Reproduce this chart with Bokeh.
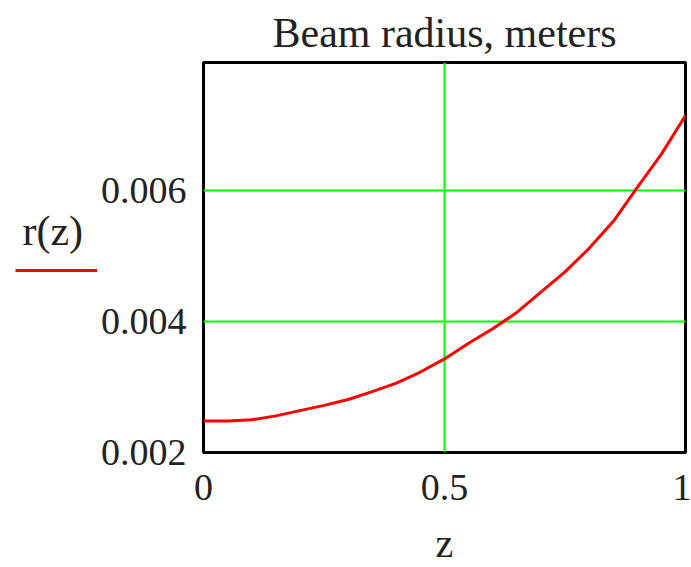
from bokeh.plotting import figure
from bokeh.layouts import row
from bokeh.core.properties import value
from bokeh.models import Range1d, FixedTicker, PrintfTickFormatter, CustomJSTickFormatter
from bokeh.embed import file_html
from bokeh.resources import INLINE

# data
z = [0.0, 0.05, 0.10, 0.15, 0.20, 0.25, 0.30, 0.35, 0.40, 0.45, 0.50,
     0.55, 0.60, 0.65, 0.70, 0.75, 0.80, 0.85, 0.90, 0.95, 1.0]
r = [0.00248, 0.00248, 0.00250, 0.00256, 0.00264, 0.00272, 0.00281, 0.00293, 0.00306, 0.00323, 0.00343,
     0.00367, 0.00389, 0.00414, 0.00445, 0.00476, 0.00512, 0.00553, 0.00605, 0.00656, 0.00715]
x_ticks = [0, 0.5, 1]
y_ticks = [0.002, 0.004, 0.006]
title_text = "Beam radius, meters"
series_name = "r(z)"
x_label = "z"

FONT = "Liberation Serif"
TXT = "#222222"
H = 567
LEG_W = 97
FRAME_TOP = 62
FRAME_H = 390

# ---- legend column (left); frame aligned with the main plot frame ----
lg = figure(frame_width=LEG_W, frame_height=FRAME_H, x_range=Range1d(0, LEG_W),
            y_range=Range1d(H - FRAME_TOP - FRAME_H, H - FRAME_TOP),
            min_border_left=0, min_border_right=0, min_border_top=0, min_border_bottom=0,
            x_axis_type=None, y_axis_type=None, output_backend="svg", toolbar_location=None)
lg.outline_line_color = None
lg.grid.visible = False
lg.line(x=[15, 97], y=[H - 270, H - 270], line_color="red", line_width=3)
lg.text(x=[22], y=[H - 230], text=[series_name], text_font=value(FONT), text_font_size="42px",
        text_color=TXT, text_baseline="middle", text_align="left")

# ---- main plot ----
p = figure(frame_width=482, frame_height=FRAME_H,
           min_border_left=203 - LEG_W, min_border_right=6, min_border_top=FRAME_TOP, min_border_bottom=0,
           x_range=Range1d(0, 1), y_range=Range1d(0.002, 0.00796),
           output_backend="svg", toolbar_location=None)

p.title.text = title_text
p.title.align = "center"
p.title.text_font = FONT
p.title.text_font_size = "42px"
p.title.text_font_style = "normal"
p.title.text_color = TXT
p.title.standoff = 14

p.line(z, r, line_color="red", line_width=3)

p.outline_line_color = "black"
p.outline_line_width = 3

for ax in (p.xaxis[0], p.yaxis[0]):
    ax.axis_line_color = None
    ax.major_tick_line_color = None
    ax.minor_tick_line_color = None
    ax.major_tick_in = 0
    ax.major_tick_out = 0
    ax.major_label_text_font = FONT
    ax.major_label_text_font_size = "38px"
    ax.major_label_text_color = TXT
    ax.axis_label_text_font = FONT
    ax.axis_label_text_font_size = "40px"
    ax.axis_label_text_font_style = "normal"
    ax.axis_label_text_color = TXT

p.xaxis.ticker = FixedTicker(ticks=x_ticks)
p.yaxis.ticker = FixedTicker(ticks=y_ticks)
p.xaxis.formatter = CustomJSTickFormatter(code="return String(tick)")
p.yaxis.formatter = PrintfTickFormatter(format="%.3f")
p.xaxis.major_label_standoff = 22
p.yaxis.major_label_standoff = 17
p.xaxis.axis_label = x_label
p.xaxis.axis_label_standoff = 18

p.xgrid.ticker = FixedTicker(ticks=x_ticks)
p.ygrid.ticker = FixedTicker(ticks=y_ticks)
p.grid.grid_line_color = "#00ff00"
p.grid.grid_line_width = 2
p.grid.grid_line_alpha = 1.0

p.background_fill_color = "white"
p.border_fill_color = "white"

layout = row(lg, p, spacing=0)
open("out.html", "w").write(file_html(layout, INLINE))
